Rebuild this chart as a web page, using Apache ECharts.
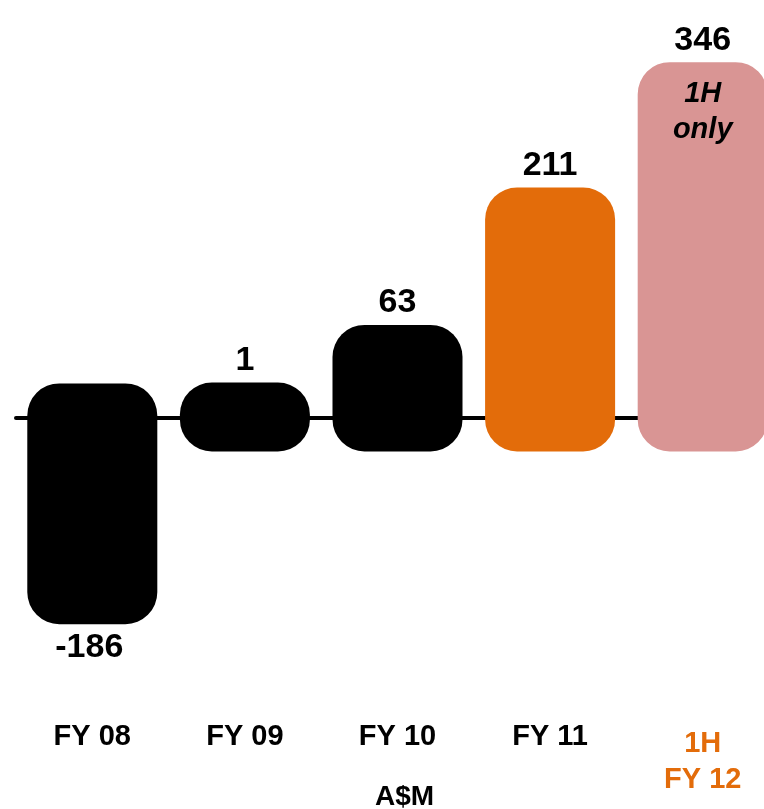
<!DOCTYPE html>
<html>
<head>
<meta charset="utf-8">
<script src="https://cdn.jsdelivr.net/npm/echarts@6/dist/echarts.min.js"></script>
<style>
  html, body { margin: 0; padding: 0; background: #fff; overflow: hidden; }
  /* the last bar runs past the right edge, so the chart is a bit wider than the window */
  #chart { width: 779px; height: 809px; }
</style>
</head>
<body>
<div id="chart"></div>
<script>
// data
const categories = ['FY 08', 'FY 09', 'FY 10', 'FY 11', '1H\nFY 12'];
const values = [-186, 1, 63, 211, 346];
const barColors = ['#000000', '#000000', '#000000', '#E36C0A', '#D99594'];
const notes = ['', '', '', '', '1H\nonly'];

const PAD = 34; // bars run past the value by their corner radius
const FONT = '"Liberation Sans", Arial, sans-serif';

const myChart = echarts.init(document.getElementById('chart'));

function renderItem(params, api) {
    const idx = api.value(0);
    const v = api.value(1);
    const pv = api.coord([idx, v]);
    const p0 = api.coord([idx, 0]);
    const band = api.size([1, 0])[0];
    const w = band * 0.852;
    const top = Math.min(pv[1], p0[1]) - PAD;
    const bottom = Math.max(pv[1], p0[1]) + PAD;
    const children = [{
        type: 'rect',
        shape: { x: pv[0] - w / 2, y: top, width: w, height: bottom - top, r: 32 },
        style: { fill: barColors[idx] }
    }, {
        type: 'text',
        style: {
            text: String(v),
            x: v >= 0 ? pv[0] : pv[0] - 3,
            y: v >= 0 ? top - 5 : bottom + 6,
            align: 'center',
            verticalAlign: v >= 0 ? 'bottom' : 'top',
            font: 'bold 34px ' + FONT,
            fill: '#000'
        }
    }];
    if (notes[idx]) {
        children.push({
            type: 'text',
            style: {
                text: notes[idx],
                x: pv[0],
                y: top + 14,
                align: 'center',
                verticalAlign: 'top',
                font: 'italic bold 29px ' + FONT,
                lineHeight: 36,
                fill: '#000'
            }
        });
    }
    return { type: 'group', children: children };
}

myChart.setOption({
    animation: false,
    title: {
        text: 'A$M',
        left: 370,
        top: 778,
        textStyle: { fontFamily: FONT, fontWeight: 'bold', fontSize: 28, color: '#000' }
    },
    grid: { left: 16, right: 0, top: 46, height: 650 },
    xAxis: [{
        type: 'category',
        data: categories,
        position: 'bottom',
        axisLine: { show: false, onZero: false },
        axisTick: { show: false },
        axisLabel: {
            interval: 0,
            margin: 30,
            verticalAlign: 'top',
            formatter: (val, i) => i === 4 ? val.split('\n').map(s => '{b|' + s + '}').join('\n') : '{a|' + val + '}',
            rich: {
                a: { fontFamily: FONT, fontWeight: 'bold', fontSize: 29, lineHeight: 22, color: '#000' },
                b: { fontFamily: FONT, fontWeight: 'bold', fontSize: 29, lineHeight: 36, color: '#E36C0A' }
            }
        }
    }, {
        type: 'category',
        data: categories,
        axisLine: { show: true, onZero: true, lineStyle: { color: '#000', width: 4 } },
        axisTick: { show: false },
        axisLabel: { show: false }
    }],
    yAxis: {
        type: 'value',
        min: -300,
        max: 400,
        show: false
    },
    series: [{
        type: 'custom',
        renderItem: renderItem,
        data: values.map((v, i) => [i, v]),
        z: 5
    }]
});
</script>
</body>
</html>
